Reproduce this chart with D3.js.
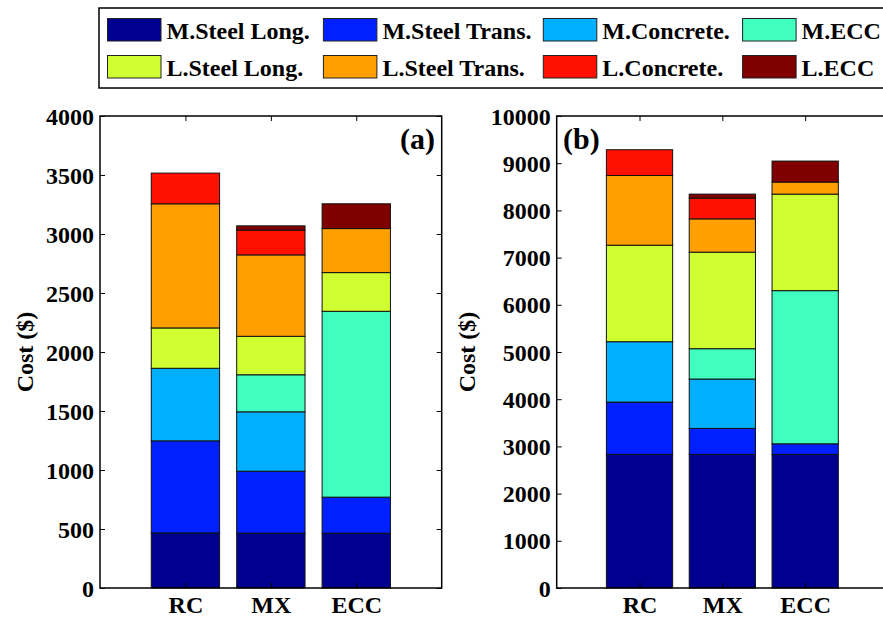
<!DOCTYPE html>
<html>
<head>
<meta charset="utf-8">
<script src="https://cdn.jsdelivr.net/npm/d3@7"></script>
<style>
  html, body { margin: 0; padding: 0; background: #fff; }
  svg { display: block; }
</style>
</head>
<body>
<svg id="chart" width="883" height="618"></svg>
<script>
// Cost components per member type
const categories = ["RC", "MX", "ECC"];
const seriesNames = ["M.Steel Long.", "M.Steel Trans.", "M.Concrete.", "M.ECC",
                     "L.Steel Long.", "L.Steel Trans.", "L.Concrete.", "L.ECC"];
const seriesColors = ["#00008f", "#0020ff", "#00afff", "#40ffbf",
                      "#cfff30", "#ffa000", "#ff1000", "#800000"];

// rows follow categories, columns follow seriesNames
const costA = [
  [467, 780, 615, 0, 342, 1052, 260, 0],
  [465, 525, 503, 314, 326, 690, 210, 36],
  [465, 305, 0, 1575, 328, 373, 0, 210]
];
const costB = [
  [2830, 1109, 1279, 0, 2045, 1477, 545, 0],
  [2830, 551, 1046, 643, 2045, 706, 439, 85],
  [2830, 225, 0, 3245, 2045, 255, 0, 445]
];
const ticksA = [0, 500, 1000, 1500, 2000, 2500, 3000, 3500, 4000];
const ticksB = [0, 1000, 2000, 3000, 4000, 5000, 6000, 7000, 8000, 9000, 10000];

const FONT = "'Liberation Serif', 'Times New Roman', Times, serif";
const svg = d3.select("#chart");

function styleText(sel, size) {
  sel.style("font-family", FONT).style("font-weight", "bold")
     .style("font-size", size + "px").attr("fill", "#000");
}

function drawPanel(opts) {
  const { left, right, top, bottom, yMax, yTicks, data, tag, tagX, tagAnchor, labelX, showRight } = opts;
  const g = svg.append("g");
  const x = d3.scaleLinear().domain([0, categories.length + 1]).range([left, right]);
  const y = d3.scaleLinear().domain([0, yMax]).range([bottom, top]);
  const barW = (x(1) - x(0)) * 0.8;

  const rows = data.map((vals, i) => {
    const o = { cat: categories[i], idx: i + 1 };
    seriesNames.forEach((s, j) => o[s] = vals[j]);
    return o;
  });
  const stacked = d3.stack().keys(seriesNames)(rows);

  stacked.forEach((layer, j) => {
    g.append("g").selectAll("rect")
      .data(layer.filter(d => d[1] - d[0] > 0))
      .join("rect")
      .attr("x", d => x(d.data.idx) - barW / 2)
      .attr("y", d => y(d[1]))
      .attr("width", barW)
      .attr("height", d => y(d[0]) - y(d[1]))
      .attr("fill", seriesColors[j])
      .attr("stroke", "#111")
      .attr("stroke-width", 1);
  });

  // y axis, ticks pointing inward
  const yAxis = d3.axisLeft(y).tickValues(yTicks).tickFormat(d3.format("d"))
    .tickSizeInner(-5).tickSizeOuter(0).tickPadding(6);
  const ya = g.append("g").attr("transform", `translate(${left},0)`).call(yAxis);
  ya.select(".domain").remove();
  ya.selectAll("line").attr("stroke", "#000");
  styleText(ya.selectAll("text").attr("dy", "0.34em"), 24);

  if (showRight) {
    const ra = g.append("g").attr("transform", `translate(${right},0)`)
      .call(d3.axisRight(y).tickValues(yTicks).tickFormat("").tickSizeInner(-5).tickSizeOuter(0));
    ra.select(".domain").remove();
  }

  // category axis
  const xAxisB = d3.axisBottom(x).tickValues(d3.range(1, categories.length + 1))
    .tickFormat(d => categories[d - 1]).tickSizeInner(-5).tickSizeOuter(0).tickPadding(8);
  const xb = g.append("g").attr("transform", `translate(0,${bottom})`).call(xAxisB);
  xb.select(".domain").remove();
  styleText(xb.selectAll("text"), 24);

  const xa = g.append("g").attr("transform", `translate(0,${top})`)
    .call(d3.axisTop(x).tickValues(d3.range(1, categories.length + 1)).tickFormat("")
      .tickSizeInner(-5).tickSizeOuter(0));
  xa.select(".domain").remove();

  // frame
  const frame = d3.path();
  frame.moveTo(right, top); frame.lineTo(left, top); frame.lineTo(left, bottom); frame.lineTo(right, bottom);
  if (showRight) frame.closePath();
  g.append("path").attr("d", frame.toString()).attr("fill", "none")
    .attr("stroke", "#000").attr("stroke-width", 1.5);

  // panel tag
  styleText(g.append("text").attr("x", tagX).attr("y", 149).attr("text-anchor", tagAnchor).text(tag), 30);

  // y label
  styleText(g.append("text").attr("transform", `translate(${labelX},${(top + bottom) / 2}) rotate(-90)`)
    .attr("text-anchor", "middle").text("Cost ($)"), 24);
}

drawPanel({ left: 100, right: 441.7, top: 116, bottom: 588, yMax: 4000, yTicks: ticksA,
  data: costA, tag: "(a)", tagX: 435, tagAnchor: "end", labelX: 33, showRight: true });
drawPanel({ left: 556.7, right: 888, top: 116, bottom: 588, yMax: 10000, yTicks: ticksB,
  data: costB, tag: "(b)", tagX: 563, tagAnchor: "start", labelX: 475, showRight: false });

// legend
const legend = svg.append("g");
legend.append("rect").attr("x", 99).attr("y", 8).attr("width", 800).attr("height", 80)
  .attr("fill", "#fff").attr("stroke", "#000").attr("stroke-width", 1.5);
const colX = [107.5, 323.4, 543.3, 742.6];
const rowY = [18.5, 55.5];
seriesNames.forEach((name, i) => {
  const c = i % 4, r = Math.floor(i / 4);
  legend.append("rect").attr("x", colX[c]).attr("y", rowY[r]).attr("width", 53.5).attr("height", 22.5)
    .attr("fill", seriesColors[i]).attr("stroke", "#222").attr("stroke-width", 1);
  styleText(legend.append("text").attr("x", colX[c] + 59).attr("y", rowY[r] + 20).text(name), 24);
});
</script>
</body>
</html>
